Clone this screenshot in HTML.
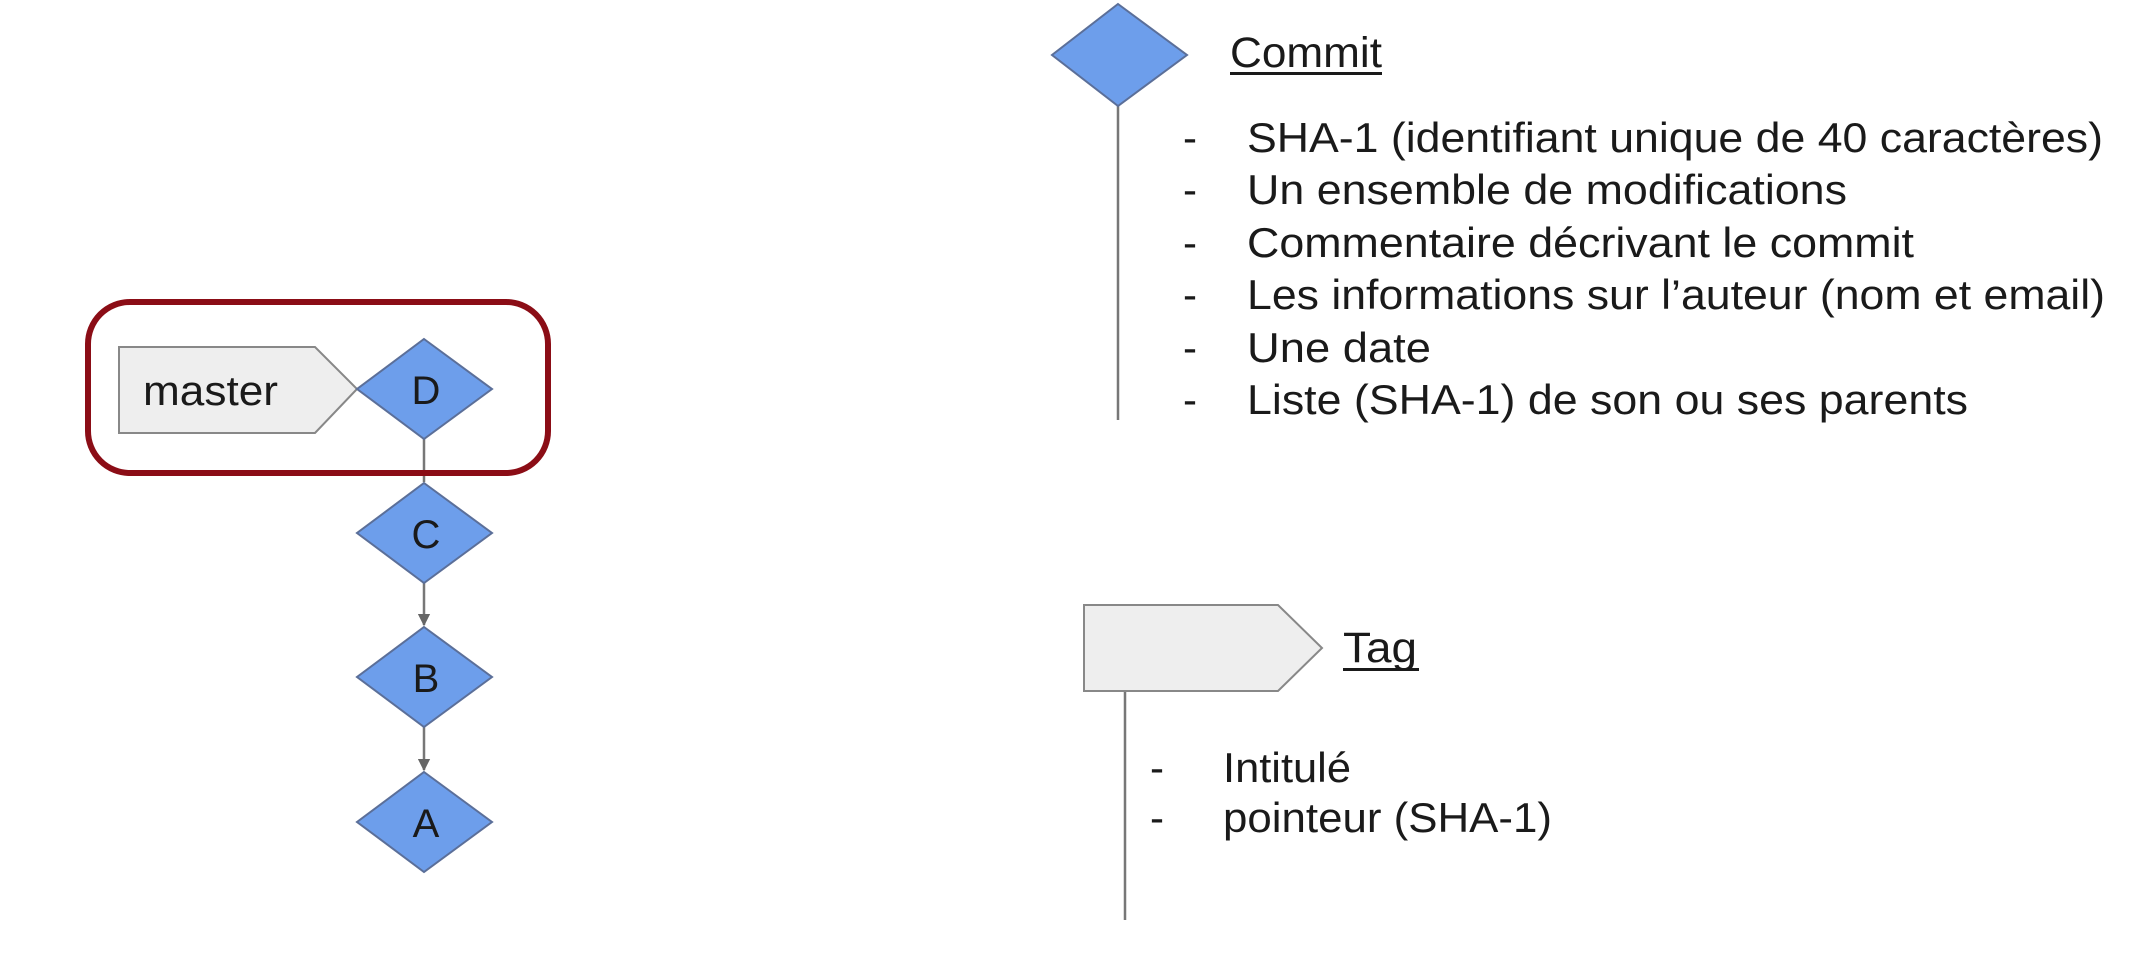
<!DOCTYPE html>
<html><head><meta charset="utf-8"><style>
html,body{margin:0;padding:0;background:#fff}
svg{display:block}
text{font-family:"Liberation Sans",Arial,sans-serif;fill:#1a1a1a}
</style></head><body>
<svg width="2152" height="968" viewBox="0 0 2152 968" xmlns="http://www.w3.org/2000/svg">
<defs>
<marker id="ar" viewBox="0 0 10 10" refX="9" refY="5" markerWidth="5" markerHeight="5" orient="auto"><path d="M0,0 L10,5 L0,10 z" fill="#666"/></marker>
</defs>
<line x1="424" y1="439" x2="424" y2="482" stroke="#777" stroke-width="2.5"/>
<line x1="424" y1="583" x2="424" y2="625" stroke="#777" stroke-width="2.5" marker-end="url(#ar)"/>
<line x1="424" y1="727" x2="424" y2="770" stroke="#777" stroke-width="2.5" marker-end="url(#ar)"/>
<polygon points="119,347 315,347 357,389 315,433 119,433" fill="#eeeeee" stroke="#888" stroke-width="2"/>
<text x="143" y="405" font-size="42" textLength="135" lengthAdjust="spacingAndGlyphs">master</text>
<g fill="#6d9eeb" stroke="#5b6f99" stroke-width="2">
<polygon points="424,339 492,389 424,439 357,389"/>
<polygon points="424,483 492,533 424,583 357,533"/>
<polygon points="424,627 492,677 424,727 357,677"/>
<polygon points="424,772 492,822 424,872 357,822"/>
</g>
<g font-size="40" text-anchor="middle">
<text x="426" y="404">D</text>
<text x="426" y="548">C</text>
<text x="426" y="692">B</text>
<text x="426" y="837">A</text>
</g>
<rect x="88" y="302" width="460" height="171" rx="42" ry="42" fill="none" stroke="#8b0d16" stroke-width="6"/>

<line x1="1118" y1="106" x2="1118" y2="420" stroke="#777" stroke-width="2.5"/>
<polygon points="1118,4 1187,55 1118,106 1052,55" fill="#6d9eeb" stroke="#5b6f99" stroke-width="2"/>
<text x="1230" y="67" font-size="43" textLength="152" lengthAdjust="spacingAndGlyphs">Commit</text>
<rect x="1230" y="72" width="152" height="3" fill="#1a1a1a"/>
<g font-size="42">
<text x="1183" y="152">-</text><text x="1247" y="152" textLength="856" lengthAdjust="spacingAndGlyphs">SHA-1 (identifiant unique de 40 caractères)</text>
<text x="1183" y="204">-</text><text x="1247" y="204" textLength="600" lengthAdjust="spacingAndGlyphs">Un ensemble de modifications</text>
<text x="1183" y="257">-</text><text x="1247" y="257" textLength="667" lengthAdjust="spacingAndGlyphs">Commentaire décrivant le commit</text>
<text x="1183" y="309">-</text><text x="1247" y="309" textLength="858" lengthAdjust="spacingAndGlyphs">Les informations sur l’auteur (nom et email)</text>
<text x="1183" y="362">-</text><text x="1247" y="362" textLength="184" lengthAdjust="spacingAndGlyphs">Une date</text>
<text x="1183" y="414">-</text><text x="1247" y="414" textLength="721" lengthAdjust="spacingAndGlyphs">Liste (SHA-1) de son ou ses parents</text>
</g>

<line x1="1125" y1="691" x2="1125" y2="920" stroke="#777" stroke-width="2.5"/>
<polygon points="1084,605 1278,605 1322,648 1278,691 1084,691" fill="#eeeeee" stroke="#888" stroke-width="2"/>
<text x="1343" y="662" font-size="43" textLength="74" lengthAdjust="spacingAndGlyphs">Tag</text>
<rect x="1343" y="668" width="76" height="3" fill="#1a1a1a"/>
<g font-size="42">
<text x="1150" y="782">-</text><text x="1223" y="782" textLength="128" lengthAdjust="spacingAndGlyphs">Intitulé</text>
<text x="1150" y="832">-</text><text x="1223" y="832" textLength="329" lengthAdjust="spacingAndGlyphs">pointeur (SHA-1)</text>
</g>
</svg>
</body></html>
